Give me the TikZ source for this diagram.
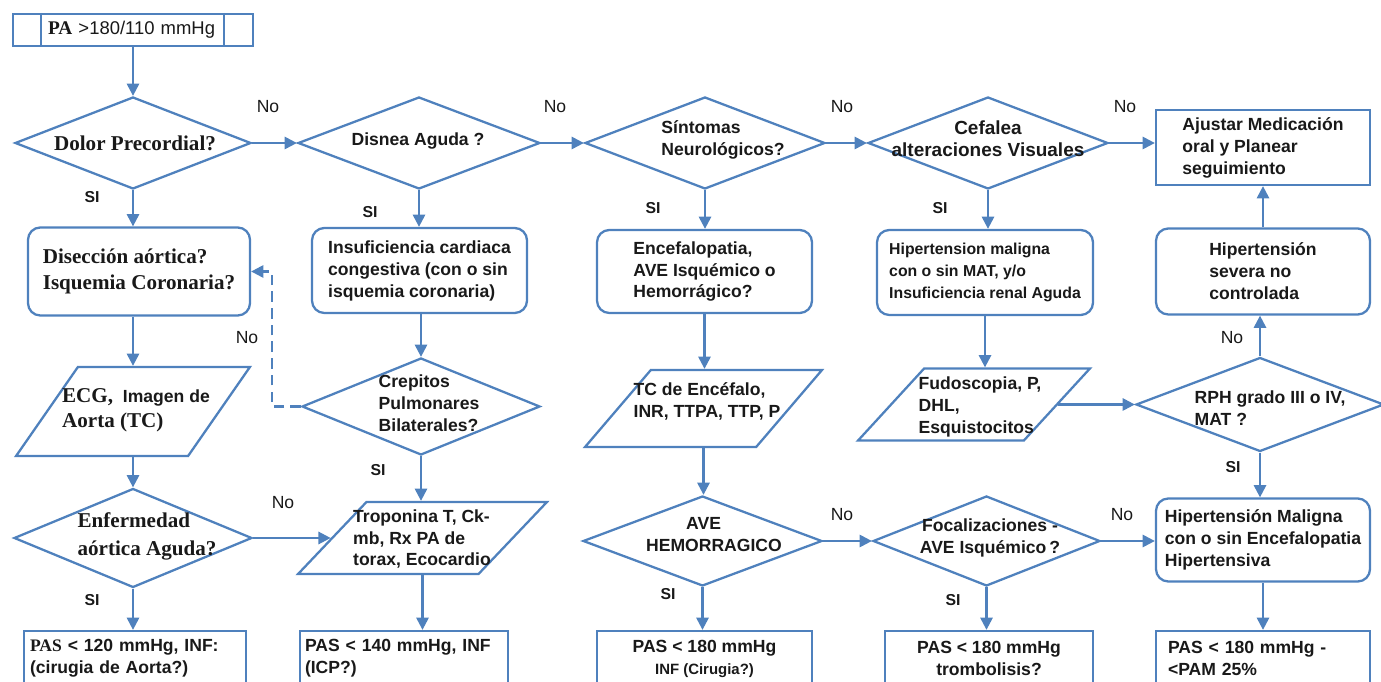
\documentclass[tikz,border=0pt]{standalone}
\usepackage{fontspec}
\setmainfont{Liberation Sans}
\newfontfamily\tnr{Liberation Serif}
\usetikzlibrary{shapes.geometric, arrows.meta, positioning, calc}
\definecolor{flowblue}{RGB}{79, 129, 189}
\definecolor{inkgray}{RGB}{25, 25, 25}

\tikzset{
  base/.style={draw=flowblue, line width=1.3pt, text=inkgray,
    font=\bfseries\fontsize{10}{12.5}\selectfont},
  procbox/.style={base, rectangle, align=left, inner sep=2pt},
  roundbox/.style={procbox, rounded corners=7pt},
  decision/.style={base, diamond, inner sep=1pt},
  databox/.style={base, trapezium, trapezium stretches=true, inner sep=2pt},
  txt/.style={text=inkgray, font=\bfseries\fontsize{10}{12.5}\selectfont, align=left, inner sep=0pt},
  tnrfont/.style={font=\tnr\bfseries\fontsize{12}{15}\selectfont},
  flow/.style={flowblue, line width=1.3pt, -{Triangle[length=7pt, width=7pt]}},
  nolab/.style={text=inkgray, font=\fontsize{10}{12}\selectfont, inner sep=0pt},
  silab/.style={text=inkgray, font=\bfseries\fontsize{9}{11}\selectfont, inner sep=0pt},
}

\begin{document}
\begin{tikzpicture}
  \useasboundingbox (0,0) rectangle (27.62,13.62);
  \clip (0,0) rectangle (27.62,13.62);

  % Start
  \node[procbox, minimum width=4.8cm, minimum height=0.64cm, text width=3.4cm,
    font=\fontsize{10.5}{12}\selectfont] (pa) at (2.66,13.02)
    {{\tnr\bfseries\fontsize{11}{12}\selectfont PA} >180/110 mmHg};
  \draw[flowblue, line width=1.3pt] ([xshift=0.58cm]pa.north west) -- ([xshift=0.58cm]pa.south west);
  \draw[flowblue, line width=1.3pt] ([xshift=-0.6cm]pa.north east) -- ([xshift=-0.6cm]pa.south east);

  % Row 1: decisions
  \node[decision, minimum width=4.72cm, minimum height=1.84cm] (d1) at (2.66,10.76) {};
  \node[decision, minimum width=4.84cm, minimum height=1.84cm] (d2) at (8.38,10.76) {};
  \node[decision, minimum width=4.80cm, minimum height=1.84cm] (d3) at (14.10,10.76) {};
  \node[decision, minimum width=4.80cm, minimum height=1.84cm] (d4) at (19.76,10.76) {};
  \node[procbox, minimum width=4.28cm, minimum height=1.50cm] (aj) at (25.26,10.67)
    {Ajustar Medicación\\oral y Planear\\seguimiento};
  \node[txt, tnrfont] (d1t) at (2.70,10.76) {Dolor Precordial?};
  \node[txt] (d2t) at (8.36,10.80) {Disnea Aguda ?};
  \node[txt] (d3t) at (14.46,10.82) {Síntomas\\Neurológicos?};
  \node[txt, align=center, font=\bfseries\fontsize{10.8}{12.5}\selectfont] (d4t) at (19.76,10.84)
    {Cefalea\\alteraciones Visuales};

  % Row 2: boxes
  \node[roundbox, tnrfont, minimum width=4.44cm, minimum height=1.76cm] (b1) at (2.78,8.19)
    {Disección aórtica?\\Isquemia Coronaria?};
  \node[roundbox, minimum width=4.30cm, minimum height=1.70cm] (b2) at (8.39,8.21)
    {Insuficiencia cardiaca\\congestiva (con o sin\\isquemia coronaria)};
  \node[roundbox, minimum width=4.30cm, minimum height=1.66cm] (b3) at (14.09,8.19)
    {Encefalopatia,\\AVE Isquémico o\\Hemorrágico?};
  \node[roundbox, minimum width=4.32cm, minimum height=1.70cm,
    font=\bfseries\fontsize{9}{12.5}\selectfont] (b4) at (19.70,8.17)
    {Hipertension maligna\\con o sin MAT, y/o\\Insuficiencia renal Aguda};
  \node[roundbox, minimum width=4.28cm, minimum height=1.72cm] (b5) at (25.26,8.19)
    {Hipertensión\\severa no\\controlada};

  % Row 3
  \node[databox, trapezium left angle=60.7, trapezium right angle=119.3,
    minimum width=4.68cm, minimum height=1.78cm] (p1) at (2.66,5.39) {};
  \node[decision, minimum width=4.76cm, minimum height=1.94cm] (d5) at (8.42,5.49) {};
  \node[databox, trapezium left angle=58, trapezium right angle=122,
    minimum width=4.74cm, minimum height=1.54cm] (p2) at (14.07,5.45) {};
  \node[databox, trapezium left angle=56.5, trapezium right angle=123.5,
    minimum width=4.64cm, minimum height=1.44cm] (p3) at (19.48,5.53) {};
  \node[decision, minimum width=4.96cm, minimum height=1.88cm] (d6) at (25.20,5.53) {};
  \node[txt, font=\bfseries\fontsize{10}{14}\selectfont] (p1t) at (2.72,5.42)
    {{\tnr\fontsize{12}{14}\selectfont ECG,}\ \ Imagen de\\{\tnr\fontsize{12}{14}\selectfont Aorta (TC)}};
  \node[txt] (d5t) at (8.58,5.56) {Crepitos\\Pulmonares\\Bilaterales?};
  \node[txt] (p2t) at (14.14,5.60) {TC de Encéfalo,\\INR, TTPA, TTP, P};
  \node[txt] (p3t) at (19.60,5.48) {Fudoscopia, P,\\DHL,\\Esquistocitos};
  \node[txt] (d6t) at (25.40,5.46) {RPH grado III o IV,\\MAT ?};

  % Row 4
  \node[decision, minimum width=4.76cm, minimum height=1.98cm] (d7) at (2.66,2.86) {};
  \node[databox, trapezium left angle=58.6, trapezium right angle=121.4,
    minimum width=4.98cm, minimum height=1.44cm] (p4) at (8.45,2.86) {};
  \node[decision, minimum width=4.78cm, minimum height=1.80cm] (d8) at (14.05,2.80) {};
  \node[decision, minimum width=4.54cm, minimum height=1.80cm] (d9) at (19.73,2.80) {};
  \node[roundbox, minimum width=4.28cm, minimum height=1.66cm] (b6) at (25.26,2.82)
    {Hipertensión Maligna\\con o sin Encefalopatia\\Hipertensiva};
  \node[txt, font=\tnr\bfseries\fontsize{12}{16}\selectfont] (d7t) at (2.94,2.90) {Enfermedad\\aórtica Aguda?};
  \node[txt] (p4t) at (8.44,2.84) {Troponina T, Ck-\\mb, Rx PA de\\torax, Ecocardio};
  \node[txt] (d8t) at (14.28,2.92) {\hspace*{0.8cm}AVE\\HEMORRAGICO};
  \node[txt, align=center] (d9t) at (19.80,2.86) {Focalizaciones -\\AVE Isquémico\,?};

  % Row 5: results (cut by the frame)
  \node[procbox, minimum width=4.44cm, minimum height=1.10cm, text width=4.2cm] (e1) at (2.70,0.45)
    {{\tnr PAS} < 120 mmHg, INF:\\(cirugia de Aorta?)};
  \node[procbox, minimum width=4.16cm, minimum height=1.10cm, text width=3.96cm] (e2) at (8.08,0.45)
    {PAS < 140 mmHg, INF\\(ICP?)};
  \node[procbox, align=center, minimum width=4.30cm, minimum height=1.10cm] (e3) at (14.09,0.45)
    {PAS < 180 mmHg\\{\fontsize{8.5}{10}\selectfont INF (Cirugia?)}};
  \node[procbox, align=center, minimum width=4.16cm, minimum height=1.10cm] (e4) at (19.78,0.45)
    {PAS < 180 mmHg\\trombolisis?};
  \node[procbox, minimum width=4.28cm, minimum height=1.10cm, text width=3.80cm] (e5) at (25.26,0.45)
    {PAS < 180 mmHg -\\<PAM 25\%};

  % Connectors
  \draw[flow] (pa.south) -- (d1.north);
  \draw[flow] (d1.east) -- (d2.west);
  \draw[flow] (d2.east) -- (d3.west);
  \draw[flow] (d3.east) -- (d4.west);
  \draw[flow] (d4.east) -- (d4.east -| aj.west);
  \draw[flow] (d1.south) -- (d1.south |- b1.north);
  \draw[flow] (d2.south) -- (d2.south |- b2.north);
  \draw[flow] (d3.south) -- (d3.south |- b3.north);
  \draw[flow] (d4.south) -- (d4.south |- b4.north);
  \draw[flow] (p1.north |- b1.south) -- (p1.north);
  \draw[flow] (d5.north |- b2.south) -- (d5.north);
  \draw[flow] (b3.south) -- (b3.south |- p2.north);
  \draw[flow] (b4.south) -- (b4.south |- p3.north);
  \draw[flow, dash pattern=on 6pt off 3.5pt] (d5.west) -- ++(-0.58,0) |- (b1.east);
  \draw[flow] (p1.south) -- (d7.north);
  \draw[flow] (d5.south) -- (d5.south |- p4.north);
  \draw[flow] (p2.south) -- (p2.south |- d8.north);
  \draw[flow] (p3.east) -- (d6.west);
  \draw[flow] (d6.north) -- (d6.north |- b5.south);
  \draw[flow] (b5.north) -- (b5.north |- aj.south);
  \draw[flow] (d6.south) -- (d6.south |- b6.north);
  \draw[flow] (d7.east) -- (p4.west);
  \draw[flow] (d8.east) -- (d9.west);
  \draw[flow] (d9.east) -- (d9.east -| b6.west);
  \draw[flow] (d7.south) -- (d7.south |- e1.north);
  \draw[flow] (p4.south) -- (p4.south |- e2.north);
  \draw[flow] (d8.south) -- (d8.south |- e3.north);
  \draw[flow] (d9.south) -- (d9.south |- e4.north);
  \draw[flow] (b6.south) -- (b6.south |- e5.north);

  % Labels
  \node[nolab] (no1) at (5.36,11.48) {No};
  \node[nolab] (no2) at (11.10,11.48) {No};
  \node[nolab] (no3) at (16.84,11.48) {No};
  \node[nolab] (no4) at (22.50,11.48) {No};
  \node[nolab] (no5) at (4.94,6.86) {No};
  \node[nolab] (no6) at (24.64,6.86) {No};
  \node[nolab] (no7) at (5.66,3.56) {No};
  \node[nolab] (no8) at (16.84,3.32) {No};
  \node[nolab] (no9) at (22.44,3.32) {No};
  \node[silab] (si1) at (1.84,9.68) {SI};
  \node[silab] (si2) at (7.40,9.38) {SI};
  \node[silab] (si3) at (13.06,9.46) {SI};
  \node[silab] (si4) at (18.80,9.46) {SI};
  \node[silab] (si5) at (7.56,4.22) {SI};
  \node[silab] (si6) at (24.66,4.28) {SI};
  \node[silab] (si7) at (1.84,1.62) {SI};
  \node[silab] (si8) at (13.36,1.74) {SI};
  \node[silab] (si9) at (19.06,1.62) {SI};
\end{tikzpicture}
\end{document}
